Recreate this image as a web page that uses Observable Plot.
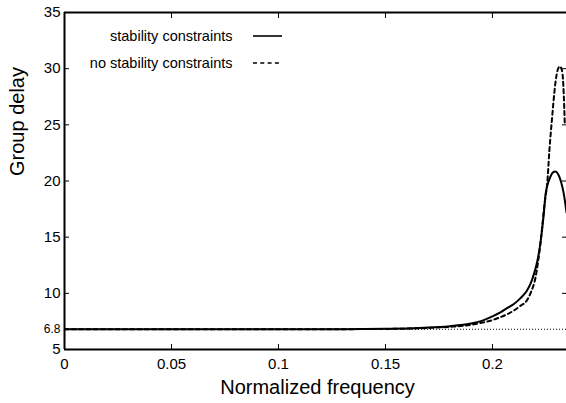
<!DOCTYPE html>
<html><head><meta charset="utf-8">
<script src="https://cdn.jsdelivr.net/npm/d3@7"></script>
<script src="https://cdn.jsdelivr.net/npm/@observablehq/plot@0.6"></script>
<style>html,body{margin:0;padding:0;background:#fff;overflow:hidden}</style>
</head><body><div id="chart"></div>
<script>
const stabFreq = [0, 0.05, 0.1, 0.13, 0.15, 0.16, 0.17, 0.18, 0.185, 0.19, 0.195, 0.2, 0.2037, 0.207, 0.21, 0.213, 0.216, 0.218, 0.2195, 0.221, 0.2222, 0.2232, 0.224, 0.2248, 0.2258, 0.227, 0.2282, 0.2294, 0.2307, 0.232, 0.2333, 0.2346];
const stabDelay = [6.8, 6.8, 6.8, 6.81, 6.84, 6.88, 6.95, 7.08, 7.18, 7.32, 7.55, 7.95, 8.3, 8.7, 9.05, 9.55, 10.2, 10.95, 11.8, 12.9, 14.2, 15.7, 17.1, 18.8, 19.7, 20.35, 20.75, 20.85, 20.6, 19.95, 18.9, 17.2];
const noStabFreq = [0, 0.05, 0.1, 0.13, 0.15, 0.16, 0.17, 0.18, 0.19, 0.195, 0.2, 0.2037, 0.207, 0.21, 0.213, 0.2162, 0.218, 0.2201, 0.2213, 0.2224, 0.2233, 0.224, 0.2248, 0.2256, 0.2266, 0.2279, 0.2294, 0.2305, 0.2315, 0.2324, 0.2329, 0.2333, 0.2338];
const noStabDelay = [6.8, 6.8, 6.8, 6.81, 6.83, 6.86, 6.92, 7.02, 7.2, 7.38, 7.62, 7.88, 8.15, 8.47, 8.88, 9.4, 10.1, 11.4, 12.8, 14.4, 16.0, 17.4, 18.6, 19.8, 22.7, 25.7, 28.7, 29.9, 30.2, 29.9, 29.2, 27.8, 25.0];
const xTicks = [0, 0.05, 0.1, 0.15, 0.2];
const yTicks = [5, 10, 15, 20, 25, 30, 35];
const refDelay = 6.8;
const xDomain = [0, 0.2346];
const yDomain = [5, 35];
const legendLabels = ["stability constraints", "no stability constraints"];
const xLabel = "Normalized frequency";
const yLabel = "Group delay";

const stab = stabFreq.map((f, i) => ({f, d: stabDelay[i]}));
const noStab = noStabFreq.map((f, i) => ({f, d: noStabDelay[i]}));

const font = "'Liberation Sans', Arial, Helvetica, sans-serif";
const fmt = d => String(d);

function legendSwatches(index, scales, values, dimensions) {
  const g = d3.create("svg:g");
  const x0 = dimensions.marginLeft + 189, x1 = dimensions.marginLeft + 218;
  [[24, null], [51, "4,3.3"]].forEach(([dy, dash]) => {
    g.append("line")
      .attr("x1", x0).attr("x2", x1)
      .attr("y1", dimensions.marginTop + dy).attr("y2", dimensions.marginTop + dy)
      .attr("stroke", "black").attr("stroke-width", 1.6)
      .attr("stroke-dasharray", dash);
  });
  return g.node();
}

const chart = Plot.plot({
  width: 566,
  height: 403,
  marginLeft: 64,
  marginRight: 0,
  marginTop: 12,
  marginBottom: 54,
  style: {fontFamily: font, background: "white", color: "black", overflow: "visible"},
  x: {domain: xDomain},
  y: {domain: yDomain},
  marks: [
    Plot.ruleY([refDelay], {stroke: "black", strokeWidth: 1, strokeDasharray: "1,2"}),
    Plot.line(stab, {x: "f", y: "d", stroke: "black", strokeWidth: 2, curve: "monotone-x", clip: true}),
    Plot.line(noStab, {x: "f", y: "d", stroke: "black", strokeWidth: 2, strokeDasharray: "4,3.3", curve: "monotone-x", clip: true}),
    Plot.axisX(xTicks, {anchor: "bottom", tickSize: -5, tickPadding: 14, fontSize: 15, tickFormat: fmt, label: null}),
    Plot.axisX(xTicks, {anchor: "top", tickSize: -5, tickFormat: () => "", label: null}),
    Plot.axisY(yTicks, {anchor: "left", tickSize: -5, tickPadding: 9, fontSize: 15, tickFormat: fmt, label: null}),
    Plot.axisY([refDelay], {anchor: "left", tickSize: -5, tickPadding: 9, fontSize: 12, tickFormat: fmt, label: null}),
    Plot.axisY(yTicks, {anchor: "right", tickSize: -5, tickFormat: () => "", label: null}),
    Plot.ruleX([xDomain[0]], {stroke: "black", strokeWidth: 2}),
    Plot.ruleY([yDomain[0]], {stroke: "black", strokeWidth: 2}),
    Plot.ruleY([yDomain[1]], {stroke: "black", strokeWidth: 2}),
    Plot.text([legendLabels[0]], {frameAnchor: "top-left", dx: 168, dy: 24, textAnchor: "end", lineAnchor: "middle", fontSize: 14.5}),
    Plot.text([legendLabels[1]], {frameAnchor: "top-left", dx: 168, dy: 51, textAnchor: "end", lineAnchor: "middle", fontSize: 14.5}),
    legendSwatches,
    Plot.text([xLabel], {frameAnchor: "bottom", dx: 2, dy: 38.5, lineAnchor: "middle", fontSize: 20}),
    Plot.text([yLabel], {frameAnchor: "left", dx: -46.5, dy: -5, rotate: -90, lineAnchor: "middle", fontSize: 20})
  ]
});
document.getElementById("chart").appendChild(chart);
</script>
</body></html>
